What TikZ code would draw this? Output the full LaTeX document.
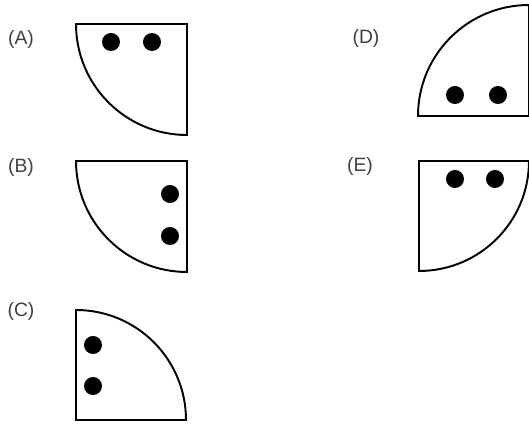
\documentclass[tikz,border=0pt]{standalone}
\usepackage{fontspec}
\setmainfont{Liberation Sans}
\usetikzlibrary{positioning}

\begin{document}
\begin{tikzpicture}[x=0.02cm, y=0.02cm, line width=1.1pt,
    optlabel/.style={text=black!75, font=\fontsize{11}{13}\selectfont, inner sep=0pt},
    dot/.style={fill=black}]
  \useasboundingbox (0,0) rectangle (529,425);
  % (A)
  \node[optlabel] (labA) at (21,385) {(A)};
  \draw (76,401) -- (187,401) -- (187,290) arc[start angle=270, end angle=180, radius=111] -- cycle;
  \fill[dot] (111,383) circle[radius=9];
  \fill[dot] (152,383) circle[radius=9];
  % (B)
  \node[optlabel] (labB) at (21,257) {(B)};
  \draw (76,264) -- (187,264) -- (187,153) arc[start angle=270, end angle=180, radius=111] -- cycle;
  \fill[dot] (170,231) circle[radius=9];
  \fill[dot] (170,189) circle[radius=9];
  % (C)
  \node[optlabel] (labC) at (21,113) {(C)};
  \draw (76,5) -- (186,5) arc[start angle=0, end angle=90, radius=110] -- cycle;
  \fill[dot] (93,80) circle[radius=9];
  \fill[dot] (93,39) circle[radius=9];
  % (D)
  \node[optlabel] (labD) at (366,386) {(D)};
  \draw (529,309) -- (418,309) arc[start angle=180, end angle=90, radius=111] -- cycle;
  \fill[dot] (455,330) circle[radius=9];
  \fill[dot] (498,330) circle[radius=9];
  % (E)
  \node[optlabel] (labE) at (360,258) {(E)};
  \draw (419,154) -- (419,264) -- (529,264) arc[start angle=0, end angle=-90, radius=110] -- cycle;
  \fill[dot] (455,246) circle[radius=9];
  \fill[dot] (495,246) circle[radius=9];
\end{tikzpicture}
\end{document}
